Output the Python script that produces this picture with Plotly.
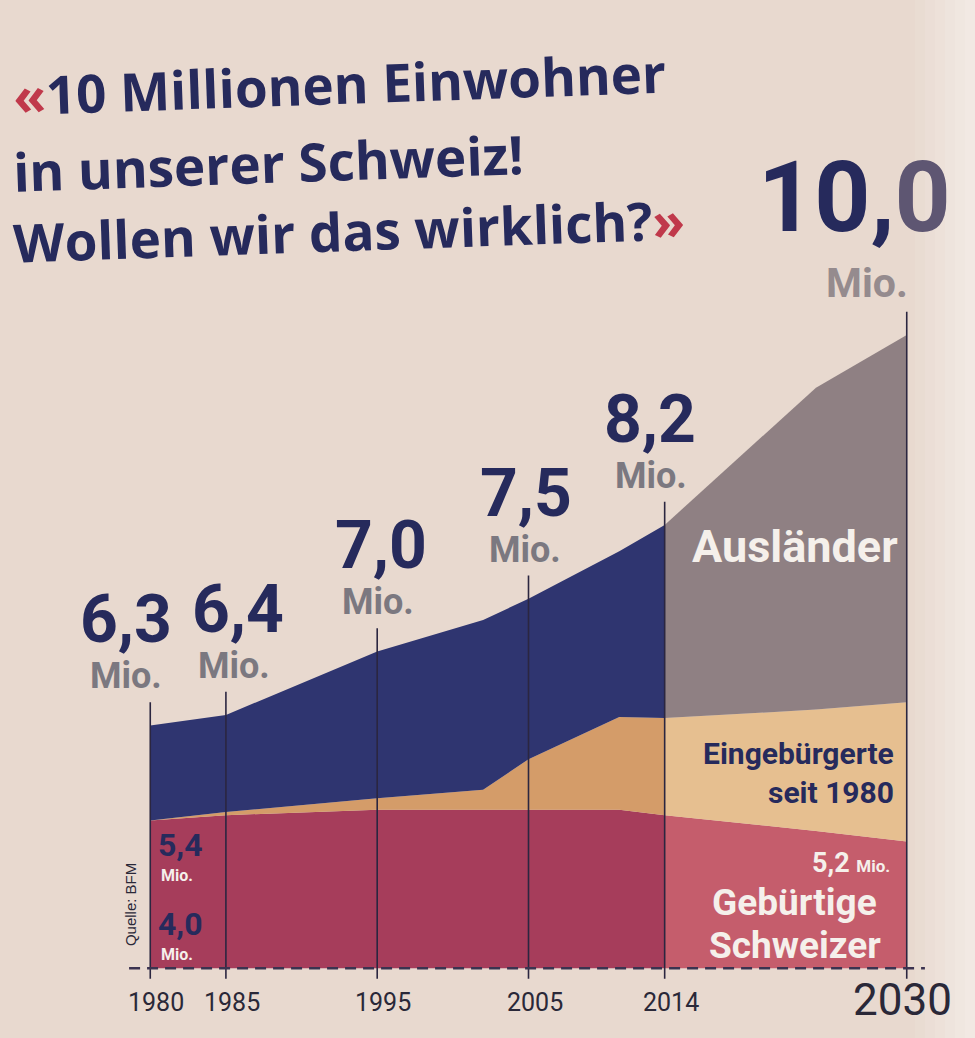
import plotly.graph_objects as go

# Population of Switzerland in millions, split into three groups
years_hist = [1980, 1985, 1995, 2002, 2005, 2011, 2014]
total_hist = [6.3, 6.4, 7.0, 7.3, 7.5, 7.95, 8.2]
swiss_born_hist = [5.4, 5.45, 5.5, 5.5, 5.5, 5.5, 5.45]
naturalised_hist = [0.0, 0.03, 0.11, 0.19, 0.48, 0.88, 0.92]

# Projection 2014-2030
years_proj = [2014, 2024, 2030]
total_proj = [8.2, 9.5, 10.0]
swiss_born_proj = [5.45, 5.3, 5.2]
naturalised_proj = [0.92, 1.15, 1.32]

# Years with a marker line and a headline total
marked_years = [1980, 1985, 1995, 2005, 2014, 2030]
marked_totals = [6.3, 6.4, 7.0, 7.5, 8.2, 10.0]
tick_labels = ["1980", "1985", "1995", "2005", "2014", "2030"]

axis_floor = 4.0          # the value axis is cut at 4.0 Mio.
swiss_1980 = 5.4
swiss_2030 = 5.2

# ---- styling ----
FIG_W, FIG_H = 975, 1038
ML, MR, MT, MB = 120, 38, 240, 54
PW, PH = FIG_W - ML - MR, FIG_H - MT - MB
X_RANGE = [1978, 2032]
Y_RANGE = [3.85, 10.9]
PX_PER_UNIT = PH / (Y_RANGE[1] - Y_RANGE[0])

BG = "#e8d9cf"
NAVY = "#2f3570"
TEXT_NAVY = "#262a5c"
RED_HIST, RED_PROJ = "#a63d5b", "#c55d6c"
ORANGE_HIST, ORANGE_PROJ = "#d49c69", "#e6bf90"
GREY_PROJ = "#8f8083"
WHITE = "#f5f0eb"
MIO_GREY = "#7b7880"
LINE = "#2b2640"

NARROW = "Roboto, sans-serif"
TITLE_FONT = "Open Sans, Roboto, sans-serif"


def paper_x(px):
    return (px - ML) / PW


def paper_y(py):
    return (FIG_H - MB - py) / PH


def data_y(py):
    """value on the y axis that sits at page pixel row py"""
    return Y_RANGE[0] + (FIG_H - MB - py) / PX_PER_UNIT


def fmt(v):
    return f"{v:.1f}".replace(".", ",")


fig = go.Figure()

# Stacked bands, drawn upwards from the cut-off floor
for xs, swiss, nat, tot, c_red, c_or, c_top in [
    (years_hist, swiss_born_hist, naturalised_hist, total_hist, RED_HIST, ORANGE_HIST, NAVY),
    (years_proj, swiss_born_proj, naturalised_proj, total_proj, RED_PROJ, ORANGE_PROJ, GREY_PROJ),
]:
    upper_nat = [s + n for s, n in zip(swiss, nat)]
    fig.add_trace(go.Scatter(x=xs, y=[axis_floor] * len(xs), mode="lines",
                             line=dict(width=0), hoverinfo="skip", showlegend=False))
    fig.add_trace(go.Scatter(x=xs, y=swiss, mode="lines", fill="tonexty", fillcolor=c_red,
                             line=dict(width=0), name="Gebürtige Schweizer", showlegend=False))
    fig.add_trace(go.Scatter(x=xs, y=upper_nat, mode="lines", fill="tonexty", fillcolor=c_or,
                             line=dict(width=0), name="Eingebürgerte seit 1980", showlegend=False))
    fig.add_trace(go.Scatter(x=xs, y=tot, mode="lines", fill="tonexty", fillcolor=c_top,
                             line=dict(width=0), name="Ausländer", showlegend=False))

shapes = []
# light fall-off toward the right edge of the page
for i, op in enumerate([0.08, 0.15, 0.22, 0.29, 0.36, 0.42]):
    shapes.append(dict(type="rect", xref="paper", yref="paper",
                       x0=paper_x(915 + i * 10), x1=paper_x(925 + i * 10),
                       y0=paper_y(FIG_H), y1=paper_y(0),
                       fillcolor="white", opacity=op, line=dict(width=0), layer="below"))

# marker lines
for yr, tot in zip(marked_years, marked_totals):
    shapes.append(dict(type="line", xref="x", yref="y", x0=yr, x1=yr,
                       y0=axis_floor - 0.1, y1=tot + 0.22,
                       line=dict(color=LINE, width=1.6), layer="above"))

# dashed floor line marking the cut axis
shapes.append(dict(type="line", xref="x", yref="y", x0=1978.6, x1=2031.2,
                   y0=axis_floor, y1=axis_floor,
                   line=dict(color="#3b3350", width=2.5, dash="11px,7px"), layer="above"))

annotations = []

# headline
title_lines = [
    ("<span style='color:#c0394b'>«</span>10 Millionen Einwohner", 84),
    ("in unserer Schweiz!", 162),
    ("Wollen wir das wirklich?<span style='color:#c0394b'>»</span>", 230),
]
for txt, ypix in title_lines:
    annotations.append(dict(text=f"<b>{txt}</b>", xref="paper", yref="paper",
                            x=paper_x(10), y=paper_y(ypix), xanchor="left", yanchor="middle",
                            showarrow=False, textangle=-2,
                            font=dict(family=TITLE_FONT, size=53, color=TEXT_NAVY)))

# totals above each marker line
num_shift = {1980: -24, 1985: 12, 1995: 4, 2005: -3, 2014: -15, 2030: -52}
mio_shift = {1980: -24, 1985: 8, 1995: 1, 2005: -4, 2014: -14, 2030: -40}
for yr, tot in zip(marked_years, marked_totals):
    big = yr == 2030
    label = fmt(tot)
    if big:
        label = label[:-1] + "<span style='color:#5e5672'>" + label[-1] + "</span>"
    annotations.append(dict(text=f"<b>{label}</b>", x=yr, y=tot + 0.22, xref="x", yref="y",
                            xanchor="center", yanchor="bottom", yshift=55 if big else 42,
                            xshift=num_shift[yr], showarrow=False,
                            font=dict(family=NARROW, size=98 if big else 66, color=TEXT_NAVY)))
    annotations.append(dict(text="<b>Mio.</b>", x=yr, y=tot + 0.22, xref="x", yref="y",
                            xanchor="center", yanchor="bottom", yshift=3, xshift=mio_shift[yr],
                            showarrow=False,
                            font=dict(family=NARROW, size=41 if big else 36,
                                      color="#958b8e" if big else MIO_GREY)))

# year labels under the floor
for yr, lab in zip(marked_years, tick_labels):
    big = yr == 2030
    annotations.append(dict(text=lab, x=yr, y=axis_floor, xref="x", yref="y",
                            xanchor="center", yanchor="top", yshift=-4 if big else -18,
                            xshift=-4 if big else 6, showarrow=False,
                            font=dict(family=NARROW, size=44 if big else 25, color="#2a2838")))

# band labels
annotations += [
    dict(text="<b>Ausländer</b>", x=2022.6, y=8.0, xref="x", yref="y", showarrow=False,
         font=dict(family=NARROW, size=45, color=WHITE)),
    dict(text="<b>Eingebürgerte</b>", x=2029.3, y=5.87, xref="x", yref="y", xanchor="right",
         yanchor="bottom", yshift=-2, showarrow=False,
         font=dict(family=NARROW, size=30, color=TEXT_NAVY)),
    dict(text="<b>seit 1980</b>", x=2029.3, y=5.87, xref="x", yref="y", xanchor="right",
         yanchor="top", yshift=-2, showarrow=False,
         font=dict(family=NARROW, size=30, color=TEXT_NAVY)),
    dict(text=f"<b>{fmt(swiss_2030)} <span style='font-size:17px'>Mio.</span></b>",
         x=2029.0, y=swiss_2030, xref="x", yref="y", xanchor="right", yanchor="top",
         yshift=-3, showarrow=False, font=dict(family=NARROW, size=27, color=WHITE)),
    dict(text="<b>Gebürtige</b>", x=2022.6, y=data_y(902), xref="x", yref="y", showarrow=False,
         font=dict(family=NARROW, size=37, color=WHITE)),
    dict(text="<b>Schweizer</b>", x=2022.6, y=data_y(945), xref="x", yref="y", showarrow=False,
         font=dict(family=NARROW, size=37, color=WHITE)),
    # left edge values
    dict(text=f"<b>{fmt(swiss_1980)}</b>", x=1980, y=swiss_1980, xref="x", yref="y",
         xanchor="left", yanchor="top", xshift=6, yshift=-4, showarrow=False,
         font=dict(family=NARROW, size=32, color=TEXT_NAVY)),
    dict(text="<b>Mio.</b>", x=1980, y=swiss_1980, xref="x", yref="y",
         xanchor="left", yanchor="top", xshift=9, yshift=-44, showarrow=False,
         font=dict(family=NARROW, size=16, color=WHITE)),
    dict(text=f"<b>{fmt(axis_floor)}</b>", x=1980, y=axis_floor, xref="x", yref="y",
         xanchor="left", yanchor="bottom", xshift=6, yshift=23, showarrow=False,
         font=dict(family=NARROW, size=32, color=TEXT_NAVY)),
    dict(text="<b>Mio.</b>", x=1980, y=axis_floor, xref="x", yref="y",
         xanchor="left", yanchor="bottom", xshift=9, yshift=2, showarrow=False,
         font=dict(family=NARROW, size=16, color=WHITE)),
    dict(text="Quelle: BFM", x=1980, y=4.6, xref="x", yref="y", xanchor="center",
         xshift=-19, textangle=-90, showarrow=False,
         font=dict(family="Liberation Sans, Arial, sans-serif", size=15, color="#2a2838")),
]

fig.update_layout(
    width=FIG_W, height=FIG_H,
    margin=dict(l=ML, r=MR, t=MT, b=MB),
    paper_bgcolor=BG, plot_bgcolor="rgba(0,0,0,0)",
    xaxis=dict(range=X_RANGE, visible=False, fixedrange=True),
    yaxis=dict(range=Y_RANGE, visible=False, fixedrange=True),
    shapes=shapes, annotations=annotations, showlegend=False,
)

fig.write_html("out.html")
